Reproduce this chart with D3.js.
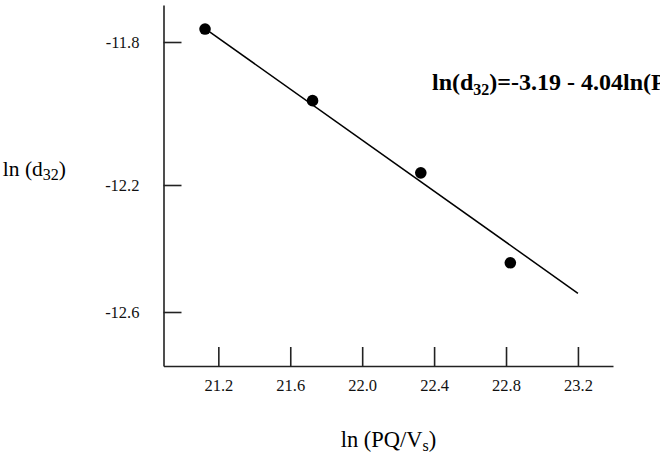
<!DOCTYPE html>
<html>
<head>
<meta charset="utf-8">
<script src="https://cdn.jsdelivr.net/npm/d3@7"></script>
<style>
html, body { margin: 0; padding: 0; background: #fff; }
svg { display: block; }
text { font-family: "Liberation Serif", "Times New Roman", serif; fill: #000; }
.tick text { font-family: "Liberation Serif", "Times New Roman", serif !important; font-size: 16.5px !important; fill: #111 !important; }
</style>
</head>
<body>
<svg id="chart" width="660" height="460"></svg>
<script>
// Data
const xValues = [21.126, 21.724, 22.326, 22.824];
const yValues = [-11.764, -11.964, -12.166, -12.445];
const fitX = [21.13, 23.2];
const fitY = [-11.764, -12.541];
const xTicks = [21.2, 21.6, 22.0, 22.4, 22.8, 23.2];
const yTicks = [-11.8, -12.2, -12.6];
const equationMain = ["ln(d", "32", ")=-3.19 - 4.04ln(PQ/V", "s", ")"];

const SERIF = "'Liberation Serif', 'Times New Roman', serif";
const svg = d3.select("#chart");

const x = d3.scaleLinear().domain([20.895, 23.395]).range([163.5, 613]);
// the reference's y axis is not evenly spaced: piecewise linear scale
const y = d3.scaleLinear()
  .domain([-11.697, -11.8, -12.2, -12.6, -12.77])
  .range([5, 42, 185, 312, 366]);

const fmt = d => d3.format(".1f")(d).replace("\u2212", "-");

const xAxis = d3.axisBottom(x)
  .tickValues(xTicks)
  .tickFormat(fmt)
  .tickSizeInner(-19)
  .tickSizeOuter(0)
  .tickPadding(13);

const yAxis = d3.axisLeft(y)
  .tickValues(yTicks)
  .tickFormat(fmt)
  .tickSizeInner(-18)
  .tickSizeOuter(0)
  .tickPadding(24);

const gx = svg.append("g").attr("transform", "translate(0,366)").call(xAxis);
const gy = svg.append("g").attr("transform", "translate(163.5,0)").call(yAxis);

for (const g of [gx, gy]) {
  g.attr("font-family", SERIF).attr("font-size", 16.5);
  g.select(".domain").attr("stroke", "#222").attr("stroke-width", 1.6);
  g.selectAll(".tick line").attr("stroke", "#222").attr("stroke-width", 1.6);
}

// fit line
svg.append("line")
  .attr("x1", x(fitX[0])).attr("y1", y(fitY[0]))
  .attr("x2", x(fitX[1])).attr("y2", y(fitY[1]))
  .attr("stroke", "#000").attr("stroke-width", 1.5);

// points
svg.selectAll("circle.pt")
  .data(xValues.map((v, i) => [v, yValues[i]]))
  .enter().append("circle")
  .attr("class", "pt")
  .attr("cx", d => x(d[0]))
  .attr("cy", d => y(d[1]))
  .attr("r", 5.8)
  .attr("fill", "#000");

// equation (runs off the right edge, as in the reference)
const eq = svg.append("text")
  .attr("x", 432).attr("y", 90)
  .style("font-size", "24px").style("font-weight", "bold");
eq.append("tspan").text(equationMain[0]);
eq.append("tspan").attr("dy", 5).style("font-size", "16px").text(equationMain[1]);
eq.append("tspan").attr("dy", -5).text(equationMain[2]);
eq.append("tspan").attr("dy", 5).style("font-size", "16px").text(equationMain[3]);
eq.append("tspan").attr("dy", -5).text(equationMain[4]);

// y title
const yt = svg.append("text")
  .attr("x", 66).attr("y", 176)
  .attr("text-anchor", "end")
  .style("font-size", "21.5px");
yt.append("tspan").text("ln (d");
yt.append("tspan").attr("dy", 4).style("font-size", "16px").text("32");
yt.append("tspan").attr("dy", -4).text(")");

// x title
const xt = svg.append("text")
  .attr("x", 388.5).attr("y", 447)
  .attr("text-anchor", "middle")
  .style("font-size", "22.5px");
xt.append("tspan").text("ln (PQ/V");
xt.append("tspan").attr("dy", 4).style("font-size", "16px").text("s");
xt.append("tspan").attr("dy", -4).text(")");
</script>
</body>
</html>
